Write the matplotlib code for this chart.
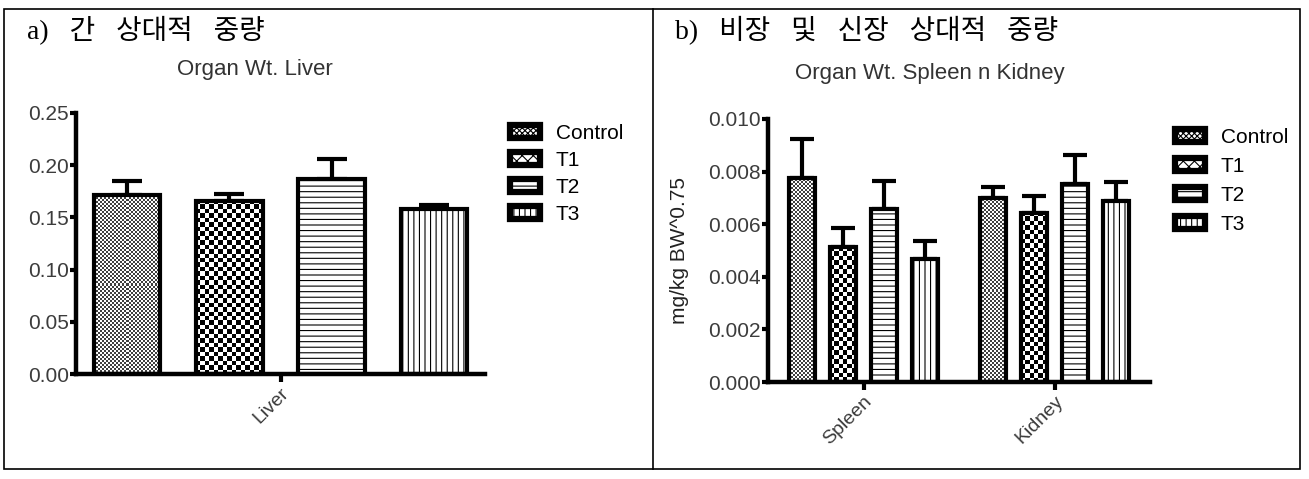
import numpy as np
import matplotlib
matplotlib.use("Agg")
import matplotlib.pyplot as plt
from matplotlib.patches import Patch, Rectangle
from matplotlib.lines import Line2D

# data
groups = ["Control", "T1", "T2", "T3"]

liver_cats = ["Liver"]
liver_mean = [[0.171], [0.166], [0.187], [0.158]]
liver_err = [[0.014], [0.006], [0.019], [0.004]]

sk_cats = ["Spleen", "Kidney"]
sk_mean = [[0.00776, 0.00700],
           [0.00513, 0.00643],
           [0.00658, 0.00753],
           [0.00468, 0.00688]]
sk_err = [[0.00148, 0.00041],
          [0.00073, 0.00064],
          [0.00106, 0.00110],
          [0.00068, 0.00072]]

W, H = 1309, 479
DPI = 100
plt.rcParams["font.family"] = ["Liberation Sans", "DejaVu Sans"]
plt.rcParams["hatch.linewidth"] = 0.8

# fill styles per group: (checker cell in px or None, hatch)
fills = [(2, None), (4.5, None), (None, "---"), (None, "|||")]
legend_hatch = ["xxxxxx", "xxx", "---", "|||"]

tick_col = "#3c3c3c"


def fx(px):
    return px / W


def fy(py):
    return 1 - py / H


def checker_fill(ax, bar, cell, dark):
    x0, y0 = bar.get_x(), bar.get_y()
    x1, y1 = x0 + bar.get_width(), y0 + bar.get_height()
    (px0, py0), (px1, py1) = ax.transData.transform([(x0, y0), (x1, y1)])
    nx = max(1, int(round((px1 - px0) / cell)))
    ny = max(1, int(round((py1 - py0) / cell)))
    grid = np.indices((ny, nx)).sum(axis=0) % 2
    im = ax.imshow(grid, cmap="gray", vmin=-dark / (1 - dark) if dark else 0, vmax=1,
                   extent=(x0, x1, y0, y1), aspect="auto",
                   interpolation="nearest", zorder=1.5)
    im.set_clip_path(bar)


def draw_panel(ax, cats, means, errs, step, width, xlim, ylim, yticks, fmt, capsize):
    ax.set_xlim(*xlim)
    ax.set_ylim(*ylim)
    base = np.arange(len(cats))
    n = len(groups)
    for i in range(n):
        offs = base + (i - (n - 1) / 2) * step
        cell, hatch = fills[i]
        bars = ax.bar(offs, means[i], width, facecolor="white" if cell is None else "none",
                      edgecolor="black", linewidth=3, hatch=hatch, zorder=2)
        ax.errorbar(offs, means[i], yerr=[np.zeros(len(cats)), errs[i]], fmt="none",
                    ecolor="black", elinewidth=3, capsize=capsize, capthick=3, zorder=1)
        if cell is not None:
            for b in bars:
                checker_fill(ax, b, cell, 0.25 if i == 0 else 0)
    ax.set_xlim(*xlim)
    ax.set_ylim(*ylim)
    ax.set_xticks(base)
    ax.set_xticklabels(cats, rotation=45, ha="right", rotation_mode="anchor",
                       fontsize=14, color=tick_col)
    ax.set_yticks(yticks)
    ax.set_yticklabels([fmt % v for v in yticks], fontsize=15, color=tick_col)
    for s in ["top", "right"]:
        ax.spines[s].set_visible(False)
    for s in ["left", "bottom"]:
        ax.spines[s].set_linewidth(3.2)
    ax.tick_params(axis="y", direction="out", length=4, width=3, pad=1)
    ax.tick_params(axis="x", direction="out", length=6, width=3, pad=2)
    ax.set_facecolor("none")


fig = plt.figure(figsize=(W / DPI, H / DPI), dpi=DPI)

# table border
fig.add_artist(Rectangle((fx(4), fy(469)), fx(1300) - fx(4), fy(9) - fy(469),
                         transform=fig.transFigure, fill=False, lw=1.2, ec="black"))
fig.add_artist(Line2D([fx(653), fx(653)], [fy(9), fy(469)], transform=fig.transFigure,
                      lw=1.2, color="black"))

kr = ["Liberation Serif", "Noto Sans CJK KR"]
sp = "   "
fig.text(fx(27), fy(31), sp.join(["a)", "간", "상대적", "중량"]), family=kr,
         fontsize=20, va="center", ha="left")
fig.text(fx(675), fy(31), sp.join(["b)", "비장", "및", "신장", "상대적", "중량"]), family=kr,
         fontsize=20, va="center", ha="left")

# left panel: liver
ax1 = fig.add_axes([fx(76), fy(374), fx(485) - fx(76), fy(113) - fy(374)])
draw_panel(ax1, liver_cats, liver_mean, liver_err, 1.0, 0.65, (-2, 2), (0, 0.25),
           np.arange(0, 0.2501, 0.05), "%.2f", 11)
fig.text(fx(255), fy(70), "Organ Wt. Liver", fontsize=16, color="#333333",
         ha="center", va="center")

# right panel: spleen and kidney
ax2 = fig.add_axes([fx(768), fy(382), fx(1150) - fx(768), fy(119) - fy(382)])
draw_panel(ax2, sk_cats, sk_mean, sk_err, 0.2135, 0.135, (-0.5, 1.5), (0, 0.010),
           np.arange(0, 0.01001, 0.002), "%.3f", 8.5)
fig.text(fx(930), fy(74), "Organ Wt. Spleen n Kidney", fontsize=16, color="#333333",
         ha="center", va="center")
ax2.set_ylabel("mg/kg BW^0.75", fontsize=15, color="#222222", labelpad=14)

# legends
for ax, px, py, ls in [(ax1, 510, 124, 0.38), (ax2, 1175, 128, 0.48)]:
    handles = [Patch(facecolor="white", edgecolor="black", linewidth=4.5, hatch=h)
               for h in legend_hatch]
    ax.legend(handles, groups, loc="upper left", bbox_to_anchor=(fx(px), fy(py)),
              bbox_transform=fig.transFigure, frameon=False, fontsize=15,
              handlelength=1.45, handleheight=0.55, handletextpad=0.75,
              labelspacing=ls, borderpad=0, borderaxespad=0)

fig.savefig("out.png", dpi=DPI, facecolor="white")
